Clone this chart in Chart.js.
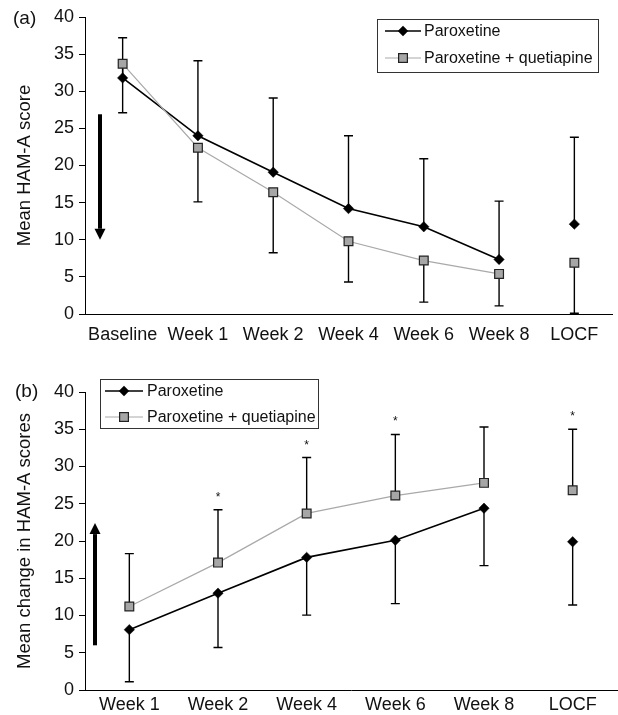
<!DOCTYPE html>
<html><head><meta charset="utf-8">
<script src="https://cdn.jsdelivr.net/npm/chart.js@4.4.1/dist/chart.umd.min.js"></script>
<style>
html,body{margin:0;padding:0;background:#fff;overflow:hidden;}
#wrapA{position:absolute;left:0;top:0;width:618px;height:348px;}
#wrapB{position:absolute;left:0;top:348px;width:618px;height:367px;}
</style></head><body>
<div id="wrapA"><canvas id="ca" width="618" height="348"></canvas></div>
<div id="wrapB"><canvas id="cb" width="618" height="367"></canvas></div>
<script>
// ---------- data ----------
const yTicks = [0, 5, 10, 15, 20, 25, 30, 35, 40];
const seriesNames = ['Paroxetine', 'Paroxetine + quetiapine'];

// Panel (a): mean HAM-A score
const labelsA = ['Baseline', 'Week 1', 'Week 2', 'Week 4', 'Week 6', 'Week 8', 'LOCF'];
const parA = [31.8, 24.0, 19.1, 14.2, 11.75, 7.35, 12.1];
const queA = [33.7, 22.4, 16.4, 9.8, 7.2, 5.4, 6.9];
const parAUpper = [37.2, 34.1, 29.1, 24.0, 20.9, 15.2, 23.8];
const queALower = [27.1, 15.1, 8.25, 4.3, 1.6, 1.1, 0.1];

// Panel (b): mean change in HAM-A scores
const labelsB = ['Week 1', 'Week 2', 'Week 4', 'Week 6', 'Week 8', 'LOCF'];
const parB = [8.1, 13.0, 17.8, 20.1, 24.4, 19.9];
const queB = [11.2, 17.1, 23.7, 26.1, 27.8, 26.8];
const queBUpper = [18.3, 24.2, 31.2, 34.3, 35.3, 35.0];
const parBLower = [1.1, 5.7, 10.05, 11.6, 16.7, 11.4];
const sigB = ['', '*', '*', '*', '', '*'];

// arrows (value range on y axis)
const arrowA = [26.9, 10.0];
const arrowB = [6.0, 22.4];

// ---------- styling ----------
const FONT = "'Liberation Sans', Arial, Helvetica, sans-serif";
Chart.defaults.font.family = FONT;
Chart.defaults.font.size = 18;
Chart.defaults.color = '#111';

const PAR_COLOR = '#000';
const QUE_LINE = '#a9a9a9';
const QUE_FILL = '#a6a6a6';
const QUE_EDGE = '#222';

function drawMarker(ctx, type, x, y) {
  ctx.save();
  if (type === 'diamond') {
    const r = 5.2;
    ctx.beginPath();
    ctx.moveTo(x, y - r); ctx.lineTo(x + r, y); ctx.lineTo(x, y + r); ctx.lineTo(x - r, y); ctx.closePath();
    ctx.fillStyle = PAR_COLOR; ctx.fill();
  } else {
    const h = 4.4;
    ctx.fillStyle = QUE_FILL; ctx.strokeStyle = QUE_EDGE; ctx.lineWidth = 1.2;
    ctx.fillRect(x - h, y - h, 2 * h, 2 * h);
    ctx.strokeRect(x - h, y - h, 2 * h, 2 * h);
  }
  ctx.restore();
}

const overlay = {
  id: 'overlay',
  beforeDatasetsDraw(chart, args, opts) {
    const ctx = chart.ctx, xs = chart.scales.x, ys = chart.scales.y;
    ctx.save();
    ctx.strokeStyle = '#000'; ctx.lineWidth = 1.4;
    (opts.errors || []).forEach(e => {
      e.mean.forEach((m, i) => {
        const x = xs.getPixelForValue(i);
        const y1 = ys.getPixelForValue(m), y2 = ys.getPixelForValue(e.bound[i]);
        ctx.beginPath();
        ctx.moveTo(x, y1); ctx.lineTo(x, y2);
        ctx.moveTo(x - 4.5, y2); ctx.lineTo(x + 4.5, y2);
        ctx.stroke();
      });
    });
    ctx.restore();
  },
  afterDraw(chart, args, opts) {
    const ctx = chart.ctx, xs = chart.scales.x, ys = chart.scales.y, ca = chart.chartArea;
    ctx.save();
    // panel label
    ctx.fillStyle = '#111';
    ctx.font = '19px ' + FONT;
    ctx.textBaseline = 'middle'; ctx.textAlign = 'left';
    ctx.fillText(opts.panel.text, opts.panel.x, opts.panel.y);
    // asterisks
    if (opts.stars) {
      ctx.font = '12px ' + FONT; ctx.textAlign = 'center'; ctx.textBaseline = 'alphabetic';
      opts.stars.marks.forEach((s, i) => {
        if (!s) return;
        const x = xs.getPixelForValue(i);
        const y = ys.getPixelForValue(opts.stars.ref[i]) - 9;
        ctx.fillText(s, x, y);
      });
    }
    // arrow
    const a = opts.arrow;
    const ax = ca.left + a.dx;
    const yFrom = ys.getPixelForValue(a.values[0]), yTo = ys.getPixelForValue(a.values[1]);
    const dir = yTo > yFrom ? 1 : -1;
    const headLen = 11, headHalf = 5.5;
    ctx.strokeStyle = '#000'; ctx.fillStyle = '#000'; ctx.lineWidth = 4;
    ctx.beginPath(); ctx.moveTo(ax, yFrom); ctx.lineTo(ax, yTo - dir * headLen); ctx.stroke();
    ctx.beginPath();
    ctx.moveTo(ax, yTo); ctx.lineTo(ax - headHalf, yTo - dir * headLen); ctx.lineTo(ax + headHalf, yTo - dir * headLen); ctx.closePath(); ctx.fill();
    // legend
    const L = opts.legend;
    ctx.lineWidth = 1; ctx.strokeStyle = '#333';
    ctx.strokeRect(L.x + 0.5, L.y + 0.5, L.w, L.h);
    ctx.font = '16px ' + FONT; ctx.textAlign = 'left'; ctx.textBaseline = 'middle'; ctx.fillStyle = '#111';
    chart.data.datasets.forEach((ds, k) => {
      const ry = L.rows[k];
      ctx.beginPath(); ctx.strokeStyle = ds.borderColor; ctx.lineWidth = ds.borderWidth;
      ctx.moveTo(L.lineX0, ry); ctx.lineTo(L.lineX1, ry); ctx.stroke();
      drawMarker(ctx, k === 0 ? 'diamond' : 'square', (L.lineX0 + L.lineX1) / 2, ry);
      ctx.fillStyle = '#111';
      ctx.fillText(ds.label, L.textX, ry + 1);
    });
    ctx.restore();
  }
};

function makeDatasets(par, que) {
  const last = par.length - 1;
  const seg = { borderColor: c => (c.p1DataIndex === last ? 'rgba(0,0,0,0)' : undefined) };
  return [
    { label: seriesNames[0], data: par, borderColor: PAR_COLOR, borderWidth: 1.6,
      pointStyle: 'rectRot', pointRadius: 5.2, pointBackgroundColor: PAR_COLOR, pointBorderColor: PAR_COLOR,
      pointBorderWidth: 0.5, pointHoverRadius: 5.2, tension: 0, segment: seg, order: 1, clip: false },
    { label: seriesNames[1], data: que, borderColor: QUE_LINE, borderWidth: 1.2,
      pointStyle: 'rect', pointRadius: 6.2, pointBackgroundColor: QUE_FILL, pointBorderColor: QUE_EDGE,
      pointBorderWidth: 1.2, pointHoverRadius: 6.2, tension: 0, segment: seg, order: 0, clip: false }
  ];
}

function makeOptions(cfg) {
  return {
    responsive: false, animation: false, devicePixelRatio: 1,
    layout: { padding: cfg.padding, autoPadding: false },
    plugins: { legend: { display: false }, tooltip: { enabled: false }, overlay: cfg.overlay },
    scales: {
      x: { type: 'category', offset: true,
        grid: { display: false, drawTicks: false }, border: { display: true, color: '#000', width: 1 },
        ticks: { padding: cfg.xPad, maxRotation: 0, autoSkip: false, color: '#111', font: { size: 18 } },
        afterFit: s => { s.height = cfg.xHeight; s.paddingLeft = 0; s.paddingRight = 0; } },
      y: { min: 0, max: 40,
        afterBuildTicks: s => { s.ticks = yTicks.map(v => ({ value: v })); },
        grid: { drawOnChartArea: false, drawTicks: true, tickLength: 6, color: '#000', tickColor: '#000', lineWidth: 1 },
        border: { display: true, color: '#000', width: 1 },
        ticks: { padding: 5, color: '#111', font: { size: 18 } },
        title: { display: true, text: cfg.yTitle, color: '#111', font: { size: 18.5 }, padding: { top: cfg.titlePad, bottom: 0 } },
        afterFit: s => { s.width = 85; } }
    }
  };
}

new Chart(document.getElementById('ca'), {
  type: 'line',
  data: { labels: labelsA, datasets: makeDatasets(parA, queA) },
  options: makeOptions({
    padding: { top: 17, right: 6, left: 0, bottom: 0 }, xPad: 10, xHeight: 34,
    yTitle: 'Mean HAM-A score', titlePad: 14,
    overlay: {
      errors: [{ mean: parA, bound: parAUpper }, { mean: queA, bound: queALower }],
      panel: { text: '(a)', x: 13, y: 19 },
      arrow: { dx: 15, values: arrowA },
      legend: { x: 377, y: 19, w: 221, h: 53, rows: [31, 58], lineX0: 385, lineX1: 421, textX: 424 }
    }
  }),
  plugins: [overlay]
});

new Chart(document.getElementById('cb'), {
  type: 'line',
  data: { labels: labelsB, datasets: makeDatasets(parB, queB) },
  options: makeOptions({
    padding: { top: 44, right: 1, left: 0, bottom: 0 }, xPad: 4, xHeight: 25,
    yTitle: 'Mean change in HAM-A scores', titlePad: 13.5,
    overlay: {
      errors: [{ mean: queB, bound: queBUpper }, { mean: parB, bound: parBLower }],
      stars: { marks: sigB, ref: queBUpper },
      panel: { text: '(b)', x: 15, y: 44 },
      arrow: { dx: 10, values: arrowB },
      legend: { x: 100, y: 31, w: 218, h: 49, rows: [43, 69], lineX0: 105, lineX1: 143, textX: 147 }
    }
  }),
  plugins: [overlay]
});
</script>
</body></html>
